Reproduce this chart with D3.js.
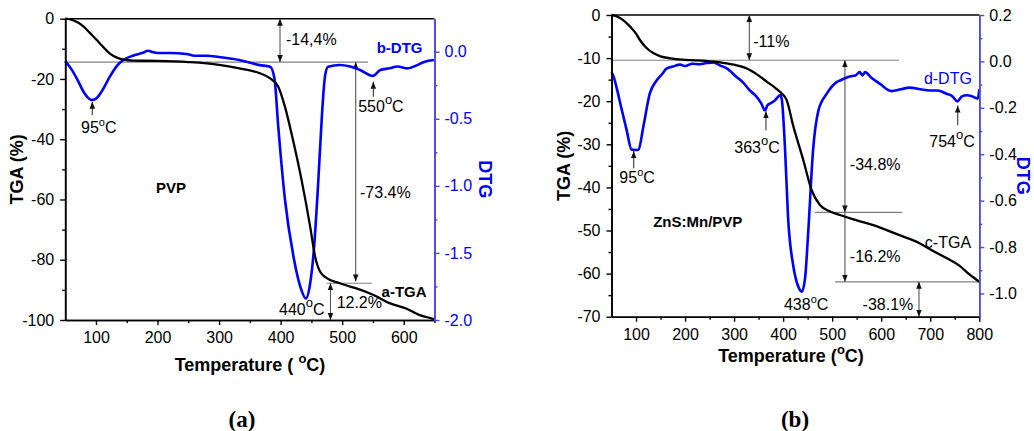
<!DOCTYPE html>
<html>
<head>
<meta charset="utf-8">
<script src="https://cdn.jsdelivr.net/npm/d3@7"></script>
<style>
body { margin: 0; background: #fff; }
text { font-family: "Liberation Sans", Arial, sans-serif; }
</style>
</head>
<body>
<svg id="chart" width="1034" height="431"></svg>
<script>
// ---- data ----
// (a) PVP : [temperature, value]
var tgaA = [[50,0],[60,-0.3],[70,-1.2],[80,-2.6],[90,-4.7],[100,-6.8],[110,-9],[122,-11.5],[135,-13],[145,-13.6],
  [160,-13.9],[200,-14.0],[250,-14.4],[300,-15.3],[333,-16.5],[366,-18.1],[383,-19.8],[396,-22.5],[407,-29.2],
  [420,-40.2],[434,-53.5],[448,-69],[456,-78.9],[464,-83.9],[475,-86.1],[496,-87.8],[513,-88.9],[523,-89.5],
  [550,-91.6],[577,-94.4],[604,-96.2],[625,-98.3],[647,-99.6],[650,-99.8]];
var dtgA = [[50,-0.07],[60,-0.13],[70,-0.21],[80,-0.3],[93,-0.36],[100,-0.35],[110,-0.29],[122,-0.19],[135,-0.1],
  [145,-0.06],[160,-0.03],[175,-0.01],[185,0.007],[190,0.0],[200,-0.01],[220,-0.01],[247,-0.017],[260,-0.03],
  [280,-0.03],[300,-0.04],[333,-0.062],[366,-0.1],[383,-0.112],[390,-0.2],[396,-0.55],[407,-1.1],[421,-1.53],
  [434,-1.78],[441,-1.84],[448,-1.726],[454,-1.478],[461,-0.981],[467,-0.484],[472,-0.186],[477,-0.112],
  [496,-0.099],[513,-0.11],[529,-0.136],[550,-0.18],[562,-0.136],[577,-0.124],[590,-0.11],[606,-0.124],
  [622,-0.1],[631,-0.08],[649,-0.062]];
// (b) ZnS:Mn/PVP
var tgaB = [[50,0],[60,-0.3],[75,-1.3],[88,-2.7],[100,-4.3],[108,-5.8],[120,-7.5],[136,-8.9],[150,-9.6],[170,-10.05],
  [200,-10.4],[244,-10.67],[285,-11.2],[310,-11.8],[326,-12.4],[340,-13.3],[353,-14.3],[367,-15.5],[385,-17.0],
  [397,-18.2],[407,-19.7],[421,-25.9],[441,-33.6],[458,-40.6],[475,-44.1],[496,-45.6],[516,-46.4],[540,-47.3],
  [570,-48.3],[590,-49.0],[611,-49.9],[640,-51.2],[679,-53],[705,-54.7],[733,-56.4],[760,-58.2],[780,-60.2],[800,-61.9]];
var dtgB = [[50,-0.046],[55,-0.07],[60,-0.11],[70,-0.2],[81,-0.297],[91,-0.38],[100,-0.382],[105,-0.38],[115,-0.28],
  [128,-0.139],[142,-0.082],[155,-0.05],[162,-0.031],[175,-0.022],[190,-0.014],[200,-0.02],[215,-0.01],[230,-0.012],
  [244,-0.007],[258,-0.004],[271,-0.017],[285,-0.03],[305,-0.067],[318,-0.09],[332,-0.125],[345,-0.15],[355,-0.18],
  [363,-0.211],[368,-0.189],[375,-0.18],[383,-0.168],[394,-0.146],[397,-0.16],[404,-0.383],[410,-0.67],[421,-0.885],
  [431,-0.971],[438,-0.992],[445,-0.928],[451,-0.741],[461,-0.383],[472,-0.211],[489,-0.139],[509,-0.089],[516,-0.082],
  [536,-0.065],[548,-0.06],[556,-0.046],[562,-0.06],[567,-0.046],[580,-0.07],[597,-0.096],[621,-0.128],[640,-0.12],
  [658,-0.113],[680,-0.12],[699,-0.125],[715,-0.125],[733,-0.139],[745,-0.15],[755,-0.172],[765,-0.15],[774,-0.146],
  [785,-0.15],[797,-0.16],[800,-0.12]];

// ticks
var xTicksA = [100,200,300,400,500,600], xMinorA = [150,250,350,450,550,650];
var tgaTicksA = [0,-20,-40,-60,-80,-100], tgaMinorA = [-10,-30,-50,-70,-90];
var dtgTicksA = [0,-0.5,-1,-1.5,-2], dtgMinorA = [-0.25,-0.75,-1.25,-1.75];
var xTicksB = [100,200,300,400,500,600,700,800], xMinorB = [150,250,350,450,550,650,750];
var tgaTicksB = [0,-10,-20,-30,-40,-50,-60,-70], tgaMinorB = [-5,-15,-25,-35,-45,-55,-65];
var dtgTicksB = [0.2,0,-0.2,-0.4,-0.6,-0.8,-1.0], dtgMinorB = [0.1,-0.1,-0.3,-0.5,-0.7,-0.9];

// annotations: [temp, value, ...]
var hLinesA = [[-14.4, 50, 542], [-87.8, 475, 548]];
var vArrowsA = [[399, 0, -14.4, 1, 1], [522, -14.4, -87.2, 1, 1], [481, -87.8, -100, 1, 1]];
var peakArrowsA = [[94, -0.373, -0.472], [550.6, -0.224, -0.335]];
var textA = [["-14,4%", 408.7, -8.7, "n"], ["-73.4%", 529, -59.6, "n"], ["12.2%", 491, -96, "n"],
  ["PVP", 197.5, -58, "b"], ["a-TGA", 564, -92.4, "b"], ["b-DTG", 556, -11.4, "bb"]];
var degA = [["95", 75.7, -37.8, 0], ["550", 526, -30.9, 1], ["440", 397.4, -98.3, 1]];

var hLinesB = [[-10.5, 50, 636], [-45.8, 465, 643], [-61.9, 506, 800]];
var vArrowsB = [[331, 0, -10.5, 1, 1], [526, -10.5, -45.8, 1, 1], [526, -45.8, -61.9, 0, 1], [677, -61.9, -70, 1, 1]];
var peakArrowsB = [[95.3, -0.387, -0.46], [365, -0.215, -0.297], [756, -0.19, -0.275]];
var textB = [["-11%", 339, -7.4, "n"], ["-34.8%", 536, -36, "n"], ["-16.2%", 536, -57.2, "n"], ["-38.1%", 562, -68.4, "n"],
  ["c-TGA", 689, -54.1, "n"], ["d-DTG", 687, -15.9, "bl"], ["ZnS:Mn/PVP", 135, -49.1, "b"]];
var degB = [["95", 66, -39, 0], ["363", 300.4, -32.1, 1], ["754", 698, -30.6, 1], ["438", 401.7, -68.4, 0]];

var BLUE = "#0000ff", AXBLUE = "#4a4ad8";

var svg = d3.select("#chart");

var defs = svg.append("defs");
defs.append("marker").attr("id", "ah")
    .attr("viewBox", "0 0 10 10").attr("refX", 10).attr("refY", 5)
    .attr("markerWidth", 7).attr("markerHeight", 7).attr("markerUnits", "userSpaceOnUse")
    .attr("orient", "auto-start-reverse")
  .append("path").attr("d", "M0,1 L10,5 L0,9 Z").attr("fill", "#111");

function styleAxis(sel, color, labelColor) {
  sel.attr("font-size", 16).attr("font-family", "'Liberation Sans', Arial, sans-serif");
  sel.select(".domain").attr("stroke", color).attr("stroke-width", 1.6);
  sel.selectAll(".tick line").attr("stroke", color).attr("stroke-width", 1.4);
  sel.selectAll(".tick text").attr("fill", labelColor);
}

function drawPanel(p) {
  var g = svg.append("g");
  var x = d3.scaleLinear().domain(p.xDomain).range(p.xRange);
  var y = d3.scaleLinear().domain(p.tgaDomain).range(p.yRange);
  var y2 = d3.scaleLinear().domain(p.dtgDomain).range(p.yRange);
  var bottom = p.yRange[0], top = p.yRange[1];
  var left = p.xRange[0], right = p.xRange[1];

  // top frame line
  g.append("line").attr("x1", left).attr("x2", right).attr("y1", top).attr("y2", top)
    .attr("stroke", "#000").attr("stroke-width", 1.4);

  // reference lines
  g.selectAll(".hl").data(p.hLines).enter().append("line")
    .attr("x1", function(d) { return x(d[1]); })
    .attr("x2", function(d) { return x(d[2]); })
    .attr("y1", function(d) { return y(d[0]); })
    .attr("y2", function(d) { return y(d[0]); })
    .attr("stroke", "#808080").attr("stroke-width", 1.2);

  g.selectAll(".va").data(p.vArrows).enter().append("line")
    .attr("x1", function(d) { return x(d[0]); })
    .attr("x2", function(d) { return x(d[0]); })
    .attr("y1", function(d) { return y(d[1]); })
    .attr("y2", function(d) { return y(d[2]); })
    .attr("stroke", "#555").attr("stroke-width", 1.1)
    .attr("marker-start", function(d) { return d[3] ? "url(#ah)" : null; })
    .attr("marker-end", function(d) { return d[4] ? "url(#ah)" : null; });

  g.selectAll(".pa").data(p.peakArrows).enter().append("line")
    .attr("x1", function(d) { return x(d[0]); })
    .attr("x2", function(d) { return x(d[0]); })
    .attr("y1", function(d) { return y2(d[2]); })
    .attr("y2", function(d) { return y2(d[1]); })
    .attr("stroke", "#333").attr("stroke-width", 1.1)
    .attr("marker-end", "url(#ah)");

  // curves
  var lineT = d3.line().x(function(d) { return x(d[0]); }).y(function(d) { return y(d[1]); }).curve(d3.curveMonotoneX);
  var lineD = d3.line().x(function(d) { return x(d[0]); }).y(function(d) { return y2(d[1]); }).curve(d3.curveMonotoneX);

  g.append("path").datum(p.dtg).attr("d", lineD)
    .attr("fill", "none").attr("stroke", BLUE).attr("stroke-width", 2.6).attr("stroke-linejoin", "round");
  g.append("path").datum(p.tga).attr("d", lineT)
    .attr("fill", "none").attr("stroke", "#000").attr("stroke-width", 2.3).attr("stroke-linejoin", "round");

  // axes
  var xa = g.append("g").attr("transform", "translate(0," + bottom + ")")
    .call(d3.axisBottom(x).tickValues(p.xTicks).tickSize(5).tickSizeOuter(0).tickPadding(7).tickFormat(d3.format("d")));
  styleAxis(xa, "#000", "#000");
  var xm = g.append("g").attr("transform", "translate(0," + bottom + ")")
    .call(d3.axisBottom(x).tickValues(p.xMinor).tickSize(3).tickSizeOuter(0).tickFormat(""));
  styleAxis(xm, "#000", "#000");

  var ya = g.append("g").attr("transform", "translate(" + left + ",0)")
    .call(d3.axisLeft(y).tickValues(p.tgaTicks).tickSize(5).tickSizeOuter(0).tickPadding(6).tickFormat(function(d) { return String(d); }));
  styleAxis(ya, "#000", "#000");
  var ym = g.append("g").attr("transform", "translate(" + left + ",0)")
    .call(d3.axisLeft(y).tickValues(p.tgaMinor).tickSize(3).tickSizeOuter(0).tickFormat(""));
  styleAxis(ym, "#000", "#000");

  var ra = g.append("g").attr("transform", "translate(" + right + ",0)")
    .call(d3.axisRight(y2).tickValues(p.dtgTicks).tickSize(5).tickSizeOuter(0).tickPadding(5).tickFormat(function(d) { return d.toFixed(1); }));
  styleAxis(ra, AXBLUE, p.dtgLabelColor);
  var rm = g.append("g").attr("transform", "translate(" + right + ",0)")
    .call(d3.axisRight(y2).tickValues(p.dtgMinor).tickSize(3).tickSizeOuter(0).tickFormat(""));
  styleAxis(rm, AXBLUE, AXBLUE);

  // axis titles
  var mid = (top + bottom) / 2;
  g.append("text").attr("transform", "translate(" + (left + p.tgaTitleDx) + "," + mid + ") rotate(-90)")
    .attr("text-anchor", "middle").attr("font-size", 18).attr("font-weight", "bold").text("TGA (%)");
  g.append("text").attr("transform", "translate(" + (right + p.dtgTitleDx) + "," + (mid + 10) + ") rotate(90)")
    .attr("text-anchor", "middle").attr("font-size", 18).attr("font-weight", "bold").attr("fill", BLUE).text("DTG");
  var tt = g.append("text").attr("x", p.tempTitleX).attr("y", bottom + p.tempTitleDy)
    .attr("text-anchor", "middle").attr("font-size", 18).attr("font-weight", "bold");
  tt.append("tspan").text(p.tempPrefix);
  tt.append("tspan").attr("font-size", 13).attr("dy", -8).text("o");
  tt.append("tspan").attr("dy", 8).text("C)");

  // labels
  g.selectAll(".lb").data(p.texts).enter().append("text")
    .attr("x", function(d) { return x(d[1]); })
    .attr("y", function(d) { return y(d[2]); })
    .attr("font-size", function(d) { return d[3] == "b" || d[3] == "bb" ? 15 : 16; })
    .attr("font-weight", function(d) { return d[3] == "b" || d[3] == "bb" ? "bold" : "normal"; })
    .attr("fill", function(d) { return d[3] == "bb" || d[3] == "bl" ? BLUE : "#000"; })
    .text(function(d) { return d[0]; });

  p.degs.forEach(function(d) {
    var t = g.append("text").attr("x", x(d[1])).attr("y", y(d[2])).attr("font-size", 16);
    t.append("tspan").text(d[0]);
    t.append("tspan").attr("font-size", d[3] ? 13 : 11).attr("dy", d[3] ? -8 : -7).text("o");
    t.append("tspan").attr("dy", d[3] ? 8 : 7).text("C");
  });

  // panel letter
  g.append("text").attr("x", p.letterX).attr("y", 427).attr("text-anchor", "middle")
    .style("font-family", "'Liberation Serif', 'Times New Roman', serif")
    .attr("font-size", 23).attr("font-weight", "bold").text(p.letter);
}

drawPanel({
  xDomain: [50, 650], xRange: [65.2, 434.5],
  tgaDomain: [-100, 0], dtgDomain: [-2, 0.246], yRange: [320, 18.7],
  tga: tgaA, dtg: dtgA,
  xTicks: xTicksA, xMinor: xMinorA, tgaTicks: tgaTicksA, tgaMinor: tgaMinorA,
  dtgTicks: dtgTicksA, dtgMinor: dtgMinorA, dtgLabelColor: BLUE,
  hLines: hLinesA, vArrows: vArrowsA, peakArrows: peakArrowsA, texts: textA, degs: degA,
  tgaTitleDx: -42, dtgTitleDx: 44, tempTitleX: 250, tempTitleDy: 51, tempPrefix: "Temperature ( ",
  letter: "(a)", letterX: 242
});

drawPanel({
  xDomain: [50, 800], xRange: [611.5, 979.3],
  tgaDomain: [-70, 0], dtgDomain: [-1.1, 0.2], yRange: [316.7, 15],
  tga: tgaB, dtg: dtgB,
  xTicks: xTicksB, xMinor: xMinorB, tgaTicks: tgaTicksB, tgaMinor: tgaMinorB,
  dtgTicks: dtgTicksB, dtgMinor: dtgMinorB, dtgLabelColor: "#000",
  hLines: hLinesB, vArrows: vArrowsB, peakArrows: peakArrowsB, texts: textB, degs: degB,
  tgaTitleDx: -41.5, dtgTitleDx: 38, tempTitleX: 791, tempTitleDy: 45, tempPrefix: "Temperature (",
  letter: "(b)", letterX: 795
});
</script>
</body>
</html>
